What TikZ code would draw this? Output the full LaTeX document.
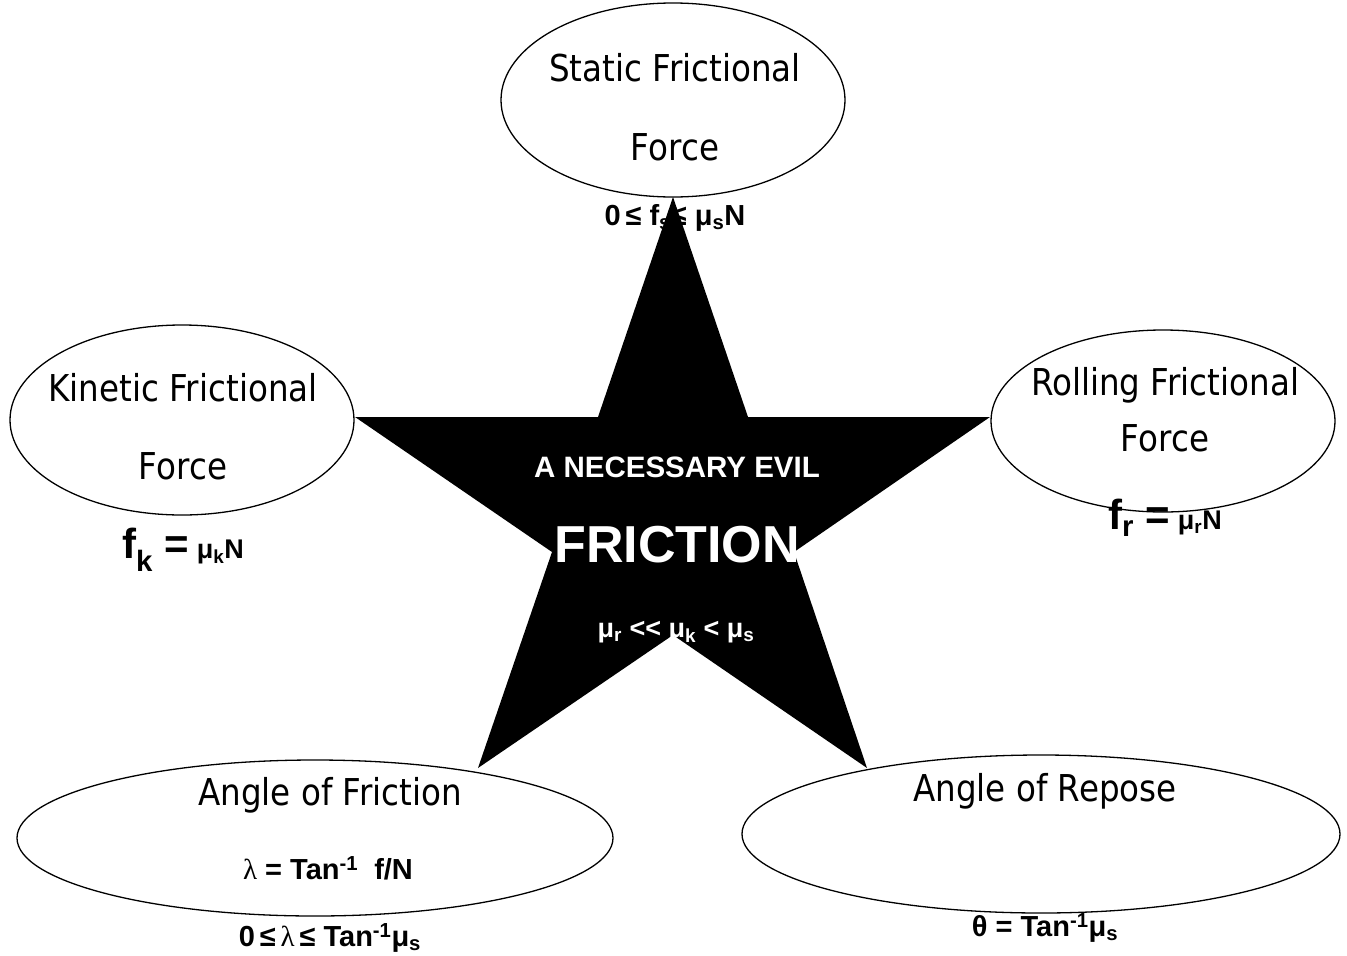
\documentclass[tikz,border=0pt]{standalone}
\usepackage{fontspec}
\setmainfont{DejaVu Sans}
\newfontfamily\tah[FakeStretch=0.88]{DejaVu Sans}
\newfontfamily\arb{Liberation Sans}
\newfontfamily\sym{Liberation Serif}
\usetikzlibrary{shapes.geometric}
\begin{document}
\begin{tikzpicture}[x=1pt,y=-1pt,
  ell/.style={ellipse,draw,line width=1.3pt,fill=white,inner sep=0pt},
  lab/.style={inner sep=0pt,font=\tah\fontsize{37}{42}\selectfont},
  frm/.style={inner sep=0pt,font=\arb\bfseries\fontsize{29}{33}\selectfont},
  wht/.style={inner sep=0pt,text=white}]
\useasboundingbox (0,0) rectangle (1347,956);
% ellipses
\node[ell,minimum width=344,minimum height=194] (static) at (673,100) {};
\node[ell,minimum width=344,minimum height=190] (kinetic) at (182,420) {};
\node[ell,minimum width=344,minimum height=182] (rolling) at (1163,421) {};
\node[ell,minimum width=596,minimum height=156] (angfr) at (315,838) {};
\node[ell,minimum width=598,minimum height=158] (angrep) at (1041,834) {};
% star
\coordinate (tT) at (673,197);
\coordinate (iUR) at (748,417);
\coordinate (tR) at (990,417);
\coordinate (iR) at (794,552);
\coordinate (tBR) at (867,768);
\coordinate (iB) at (673,635);
\coordinate (tBL) at (478,768);
\coordinate (iL) at (552,552);
\coordinate (tL) at (355,417);
\coordinate (iUL) at (598,417);
\fill[black] (tT) -- (iUR) -- (tR) -- (iR) -- (tBR) -- (iB) -- (tBL) -- (iL) -- (tL) -- (iUL) -- cycle;
% ellipse texts
\node[lab] (t1) at (675,68) {Static Frictional};
\node[lab] (t2) at (675,147) {Force};
\node[lab] (t3) at (183,388) {Kinetic Frictional};
\node[lab] (t4) at (183,466) {Force};
\node[lab] (t5) at (1165,385) {Rolling Frictional};
\node[lab] (t6) at (1165,438) {Force};
\node[lab] (t7) at (330,795) {Angle of Friction};
\node[lab] (t8) at (1045,791) {Angle of Repose};
% formulas
\node[frm] (f1) at (675,218) {0\,≤ f\textsubscript{s}≤ μ\textsubscript{s}N};
\node[frm,font=\arb\bfseries\fontsize{27}{31}\selectfont] (f2) at (183,550) {{\fontsize{42}{46}\selectfont f\textsubscript{k} =}\ μ\textsubscript{k}N};
\node[frm,font=\arb\bfseries\fontsize{27}{31}\selectfont] (f3) at (1165,518) {{\fontsize{42}{46}\selectfont f\textsubscript{r} =}\ μ\textsubscript{r}N};
\node[frm] (f4) at (328,868) {{\sym\mdseries λ} = Tan\textsuperscript{-1}\ \ f/N};
\node[frm] (f5) at (330,938) {0\,≤\,{\sym\mdseries λ}\,≤ Tan\textsuperscript{-1}μ\textsubscript{s}};
\node[frm] (f6) at (1045,928) {θ = Tan\textsuperscript{-1}μ\textsubscript{s}};
% star texts
\node[wht,font=\arb\bfseries\fontsize{29.5}{34}\selectfont] (s1) at (677,467) {A NECESSARY EVIL};
\node[wht,font=\arb\bfseries\fontsize{52}{60}\selectfont] (s2) at (677,545) {FRICTION};
\node[wht,font=\arb\bfseries\fontsize{27}{31}\selectfont] (s3) at (676,632) {μ\textsubscript{r} << μ\textsubscript{k} < μ\textsubscript{s}};
\end{tikzpicture}
\end{document}
